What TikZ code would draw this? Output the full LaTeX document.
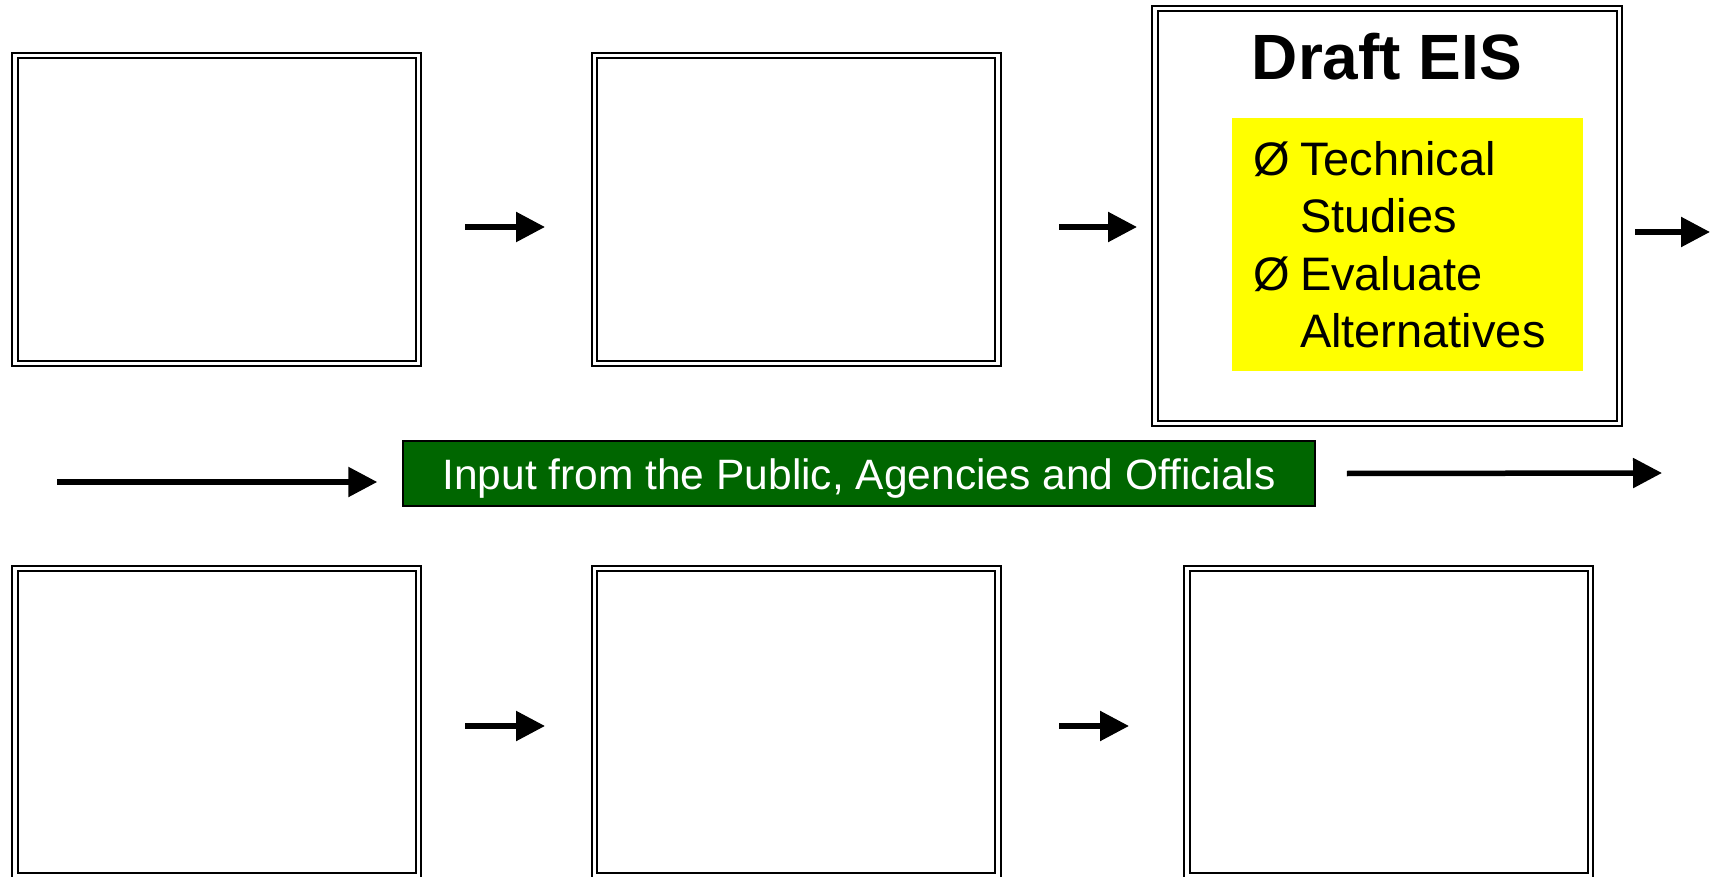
\documentclass[tikz,border=0pt]{standalone}
\usepackage{fontspec}
\setmainfont{Liberation Sans}
\usepackage{tikz}
\usepackage{xcolor}
\usetikzlibrary{arrows.meta}
\definecolor{inputgreen}{RGB}{0,102,0}
\definecolor{bulletyellow}{RGB}{255,255,0}
\tikzset{
    double-box/.style = {draw, double, line width=2pt, double distance=3.5pt, rectangle, inner sep=0pt, minimum width=403.5pt, minimum height=307.5pt},
    flow-arrow/.style = {-{Triangle[length=29pt,width=29pt]}, line width=5.5pt},
    input-box/.style = {draw=black, fill=inputgreen, text=white, line width=1.5pt, minimum width=912pt, minimum height=65pt, text height=31pt, text depth=0pt, font=\fontsize{42.5}{50}\selectfont},
    bullet-box/.style = {fill=bulletyellow, inner xsep=21pt, inner ysep=0pt, text width=309pt, minimum height=253pt, align=left, font=\fontsize{47}{57.5}\selectfont},
}

\begin{document}
\begin{tikzpicture}[x=1pt, y=-1pt]
\useasboundingbox (0,0) rectangle (1711,877);
% top row
\node [double-box] (top1) at (216.5,209.5) {};
\node [double-box] (top2) at (796,209.5) {};
\node [double-box, minimum width=464.5pt, minimum height=414.5pt] (draftEIS) at (1387,216) {};
\node [anchor=base, font=\fontsize{64}{70}\selectfont\bfseries] (drafttitle) at (1387,80) {Draft EIS};
\node [bullet-box] (evalbox) at (1407.5,244.5) {\makebox[47pt][l]{Ø}Technical\\\hspace*{47pt}Studies\\\makebox[47pt][l]{Ø}Evaluate\\\hspace*{47pt}Alternatives};
\coordinate (topout) at (1710,232);
\draw [flow-arrow] ([xshift=45.75pt,yshift=-17.5pt]top1.east) -- ([xshift=-48.25pt,yshift=-17.5pt]top2.west);
\draw [flow-arrow] ([xshift=60.25pt,yshift=-17.5pt]top2.east) -- ([xshift=-16.75pt,yshift=-11pt]draftEIS.west);
\draw [flow-arrow] ([xshift=14.75pt,yshift=-16pt]draftEIS.east) -- (topout);

% public input
\node [input-box] (inputbox) at (859,473.5) {Input from the Public, Agencies and Officials};
\coordinate (inleft) at (57,482);
\coordinate (inright) at (1662,473);
\draw [flow-arrow] (inleft) -- ([xshift=-25pt,yshift=-8.5pt]inputbox.west);
\draw [flow-arrow] ([xshift=31pt]inputbox.east) -- (inright);

% bottom row
\node [double-box] (bot1) at (216.5,722) {};
\node [double-box] (bot2) at (796,722) {};
\node [double-box] (bot3) at (1388.5,722) {};
\draw [flow-arrow] ([xshift=45.75pt,yshift=-4pt]bot1.east) -- ([xshift=-48.25pt,yshift=-4pt]bot2.west);
\draw [flow-arrow] ([xshift=60.25pt,yshift=-4pt]bot2.east) -- ([xshift=-56.75pt,yshift=-4pt]bot3.west);
\end{tikzpicture}
\end{document}
